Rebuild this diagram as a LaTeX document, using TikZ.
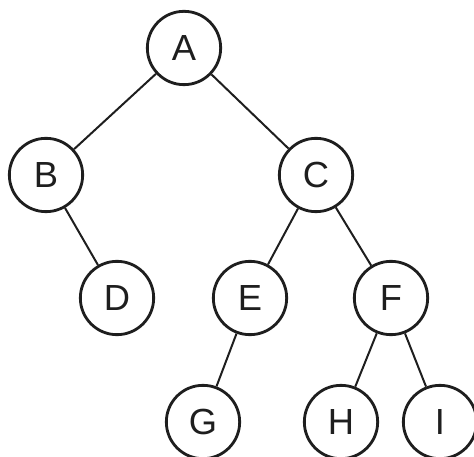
\documentclass[tikz,border=0pt]{standalone}
\usepackage{fontspec}
\setmainfont{Liberation Sans}
\usepackage{tikz}
\usetikzlibrary{positioning}
\definecolor{tInk}{HTML}{1E1E1E}
\tikzset{
  vtx/.style  = {circle, draw=tInk, line width=2.4pt, minimum size=2.2cm,
                 inner sep=0pt, font=\fontsize{31}{34}\selectfont, text=tInk},
  ed/.style   = {draw=tInk, line width=1.7pt},
}
\begin{document}
\begin{tikzpicture}[x=0.03cm, y=-0.03cm]
  \useasboundingbox (0,0) rectangle (474,457);
  % the vertices
  \node[vtx] (nA) at (184,48)  {A};
  \node[vtx] (nB) at (46,175)  {B};
  \node[vtx] (nC) at (316,175) {C};
  \node[vtx] (nD) at (117,298) {D};
  \node[vtx] (nE) at (250,298) {E};
  \node[vtx] (nF) at (391,298) {F};
  \node[vtx] (nG) at (203,422) {G};
  \node[vtx] (nH) at (341,422) {H};
  \node[vtx] (nI) at (440,422) {I};
  % the edges
  \foreach \a/\b in {nA/nB, nA/nC, nB/nD, nC/nE, nC/nF, nE/nG, nF/nH, nF/nI}
    \draw[ed] (\a) -- (\b);
\end{tikzpicture}
\end{document}
